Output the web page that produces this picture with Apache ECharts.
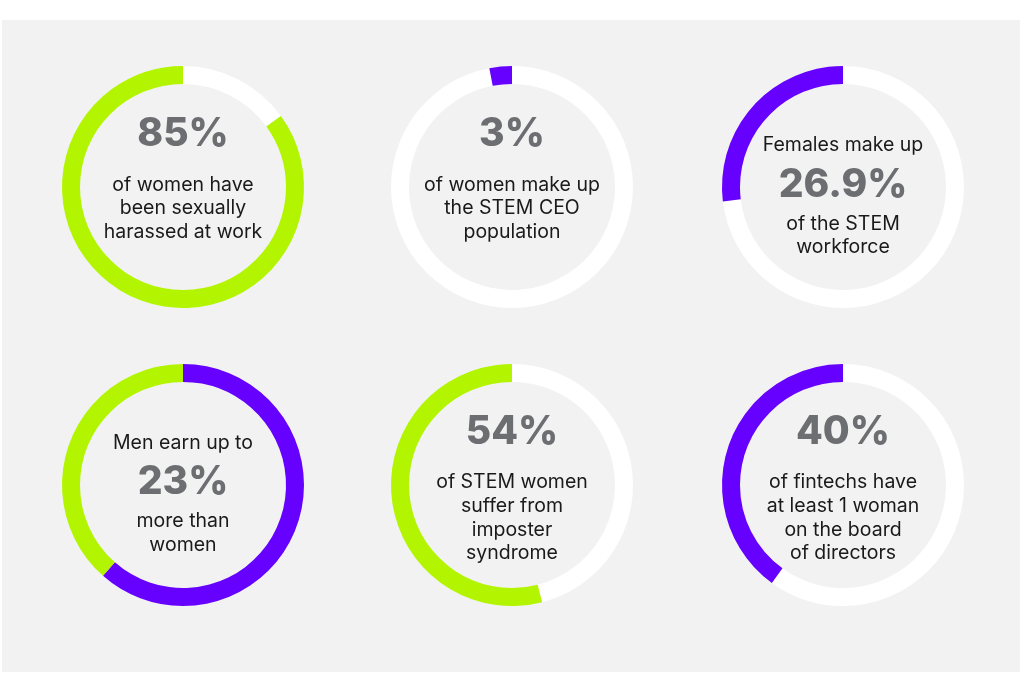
<!DOCTYPE html>
<html>
<head>
<meta charset="utf-8">
<script src="https://cdn.jsdelivr.net/npm/echarts@6/dist/echarts.min.js"></script>
<style>
  html, body { margin: 0; padding: 0; background: #fff; }
  #chart { width: 1024px; height: 692px; }
</style>
</head>
<body>
<div id="chart"></div>
<script>
// ring segments, clockwise from 12 o'clock
const ring1 = [15, 85];
const ring2 = [97, 3];
const ring3 = [73.1, 26.9];
const ring4 = [61.5, 38.5];
const ring5 = [46, 54];
const ring6 = [60, 40];

const WHITE = '#ffffff';
const GREEN = '#b3f500';
const PURPLE = '#6600ff';

const ringColors = [
  [WHITE, GREEN],
  [WHITE, PURPLE],
  [WHITE, PURPLE],
  [PURPLE, GREEN],
  [WHITE, GREEN],
  [WHITE, PURPLE]
];

// text inside each ring, big = the figure
const texts1 = [{ t: '85%', big: true }, { t: 'of women have' }, { t: 'been sexually' }, { t: 'harassed at work' }];
const texts2 = [{ t: '3%', big: true }, { t: 'of women make up' }, { t: 'the STEM CEO' }, { t: 'population' }];
const texts3 = [{ t: 'Females make up' }, { t: '26.9%', big: true }, { t: 'of the STEM' }, { t: 'workforce' }];
const texts4 = [{ t: 'Men earn up to' }, { t: '23%', big: true }, { t: 'more than' }, { t: 'women' }];
const texts5 = [{ t: '54%', big: true }, { t: 'of STEM women' }, { t: 'suffer from' }, { t: 'imposter' }, { t: 'syndrome' }];
const texts6 = [{ t: '40%', big: true }, { t: 'of fintechs have' }, { t: 'at least 1 woman' }, { t: 'on the board' }, { t: 'of directors' }];

const rings = [ring1, ring2, ring3, ring4, ring5, ring6];
const texts = [texts1, texts2, texts3, texts4, texts5, texts6];

// layout
const centers = [[183, 187], [512, 187], [843, 187], [183, 485], [512, 485], [843, 485]];
const lineOffsets = [
  [-53, -2, 21, 45],
  [-53, -2, 21, 45],
  [-42, -2, 37, 60],
  [-42, -3, 36, 60],
  [-53, -3, 21, 45, 68],
  [-53, -3, 21, 45, 68]
];

let chart = echarts.init(document.getElementById('chart'));

let series = rings.map((vals, i) => ({
  type: 'pie',
  center: centers[i],
  radius: [103, 121],
  startAngle: 90,
  clockwise: true,
  silent: true,
  animation: false,
  label: { show: false },
  labelLine: { show: false },
  emphasis: { disabled: true },
  data: vals.map((v, j) => ({ value: v, itemStyle: { color: ringColors[i][j] } }))
}));

let graphics = [
  {
    type: 'rect',
    shape: { x: 2, y: 20, width: 1018, height: 652 },
    style: { fill: '#f2f2f2' },
    z: -10
  }
];

texts.forEach((lines, i) => {
  lines.forEach((line, j) => {
    graphics.push({
      type: 'text',
      x: centers[i][0],
      y: centers[i][1] + lineOffsets[i][j],
      z: 10,
      style: {
        text: line.t,
        align: 'center',
        verticalAlign: 'middle',
        fill: line.big ? '#6d6e71' : '#1a1a1a',
        fontFamily: 'Inter',
        fontWeight: line.big ? 800 : 400,
        fontSize: line.big ? 39 : 19.5
      }
    });
  });
});

chart.setOption({
  backgroundColor: '#ffffff',
  graphic: graphics,
  series: series
});
</script>
</body>
</html>
